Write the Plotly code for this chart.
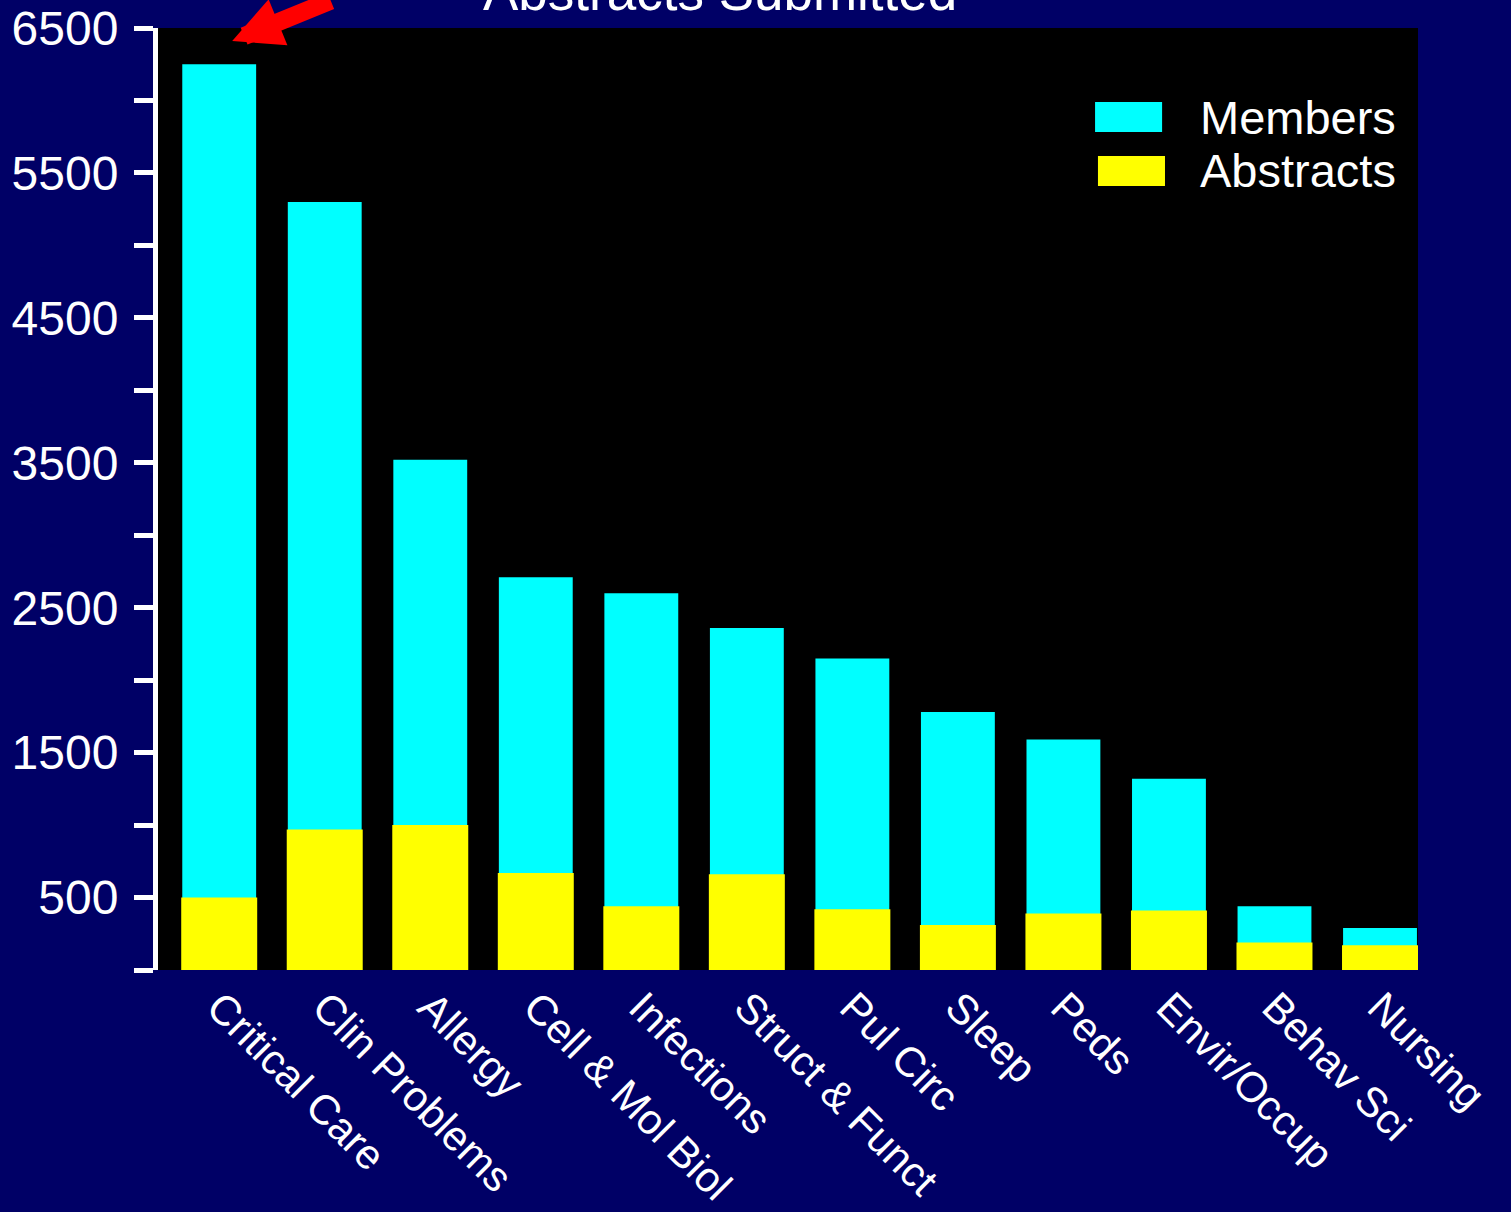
import plotly.graph_objects as go

# Section membership and abstracts submitted, by assembly
categories = ["Critical Care", "Clin Problems", "Allergy", "Cell & Mol Biol",
              "Infections", "Struct & Funct", "Pul Circ", "Sleep", "Peds",
              "Envir/Occup", "Behav Sci", "Nursing"]
members = [6250, 5300, 3520, 2710, 2600, 2360, 2150, 1780, 1590, 1320, 440, 290]
abstracts = [500, 970, 1000, 670, 440, 660, 420, 310, 390, 410, 190, 170]

# Y axis: a tick every 500, labels on the odd hundreds
tick_vals = list(range(0, 7000, 500))
tick_text = [str(v) if v % 1000 == 500 else "" for v in tick_vals]

NAVY = "#000066"
CYAN = "#00FFFF"
YELLOW = "#FFFF00"
FONT = "Liberation Sans, Arial, sans-serif"

fig = go.Figure()
fig.add_trace(go.Bar(x=categories, y=members, name="Members",
                     marker=dict(color=CYAN, line=dict(width=0)), width=0.70))
fig.add_trace(go.Bar(x=categories, y=abstracts, name="Abstracts",
                     marker=dict(color=YELLOW, line=dict(width=0)), width=0.72))

fig.update_layout(
    width=1511, height=1212,
    margin=dict(l=158, r=93, t=28, b=242, autoexpand=False),
    paper_bgcolor=NAVY, plot_bgcolor="#000000",
    barmode="overlay", showlegend=False,
    font=dict(family=FONT, color="white"),
    xaxis=dict(type="category", range=[-0.58, 11.36], showline=False,
               ticks="", showgrid=False, zeroline=False, tickangle=45,
               automargin=False, ticklabelstandoff=3,
               tickfont=dict(size=42, color="white")),
    yaxis=dict(range=[0, 6500], tickvals=tick_vals, ticktext=tick_text,
               showline=True, linecolor="white", linewidth=5,
               ticks="outside", ticklen=19, tickwidth=5, tickcolor="white",
               ticklabelstandoff=6, showgrid=False, zeroline=False,
               automargin=False, tickfont=dict(size=48, color="white")),
)

# Title, running off the top edge
fig.add_annotation(text="Abstracts Submitted", xref="paper", yref="paper",
                   x=0.446, y=1, xanchor="center", yanchor="bottom", yshift=5,
                   showarrow=False, font=dict(size=53, color="white"))

# Red arrow pointing at the Critical Care bar
fig.add_annotation(x=categories[0], y=6410, xshift=13, ax=100, ay=-61,
                   text="", showarrow=True, arrowhead=2, arrowsize=0.55,
                   arrowwidth=18, arrowcolor="#FF0000")

# Legend with large swatches
legend_items = [("Members", CYAN, 0.9214, 0.8896, 0.7437),
                ("Abstracts", YELLOW, 0.8641, 0.8323, 0.746)]
for label, color, y_top, y_bot, x0 in legend_items:
    fig.add_shape(type="rect", xref="paper", yref="paper",
                  x0=x0, x1=x0 + 0.0532, y0=y_bot, y1=y_top,
                  fillcolor=color, line=dict(width=0))
    fig.add_annotation(text=label, xref="paper", yref="paper",
                       x=0.8254, y=(y_top + y_bot) / 2,
                       xanchor="left", yanchor="middle", showarrow=False,
                       font=dict(size=47, color="white"))

fig.write_html("out.html")
